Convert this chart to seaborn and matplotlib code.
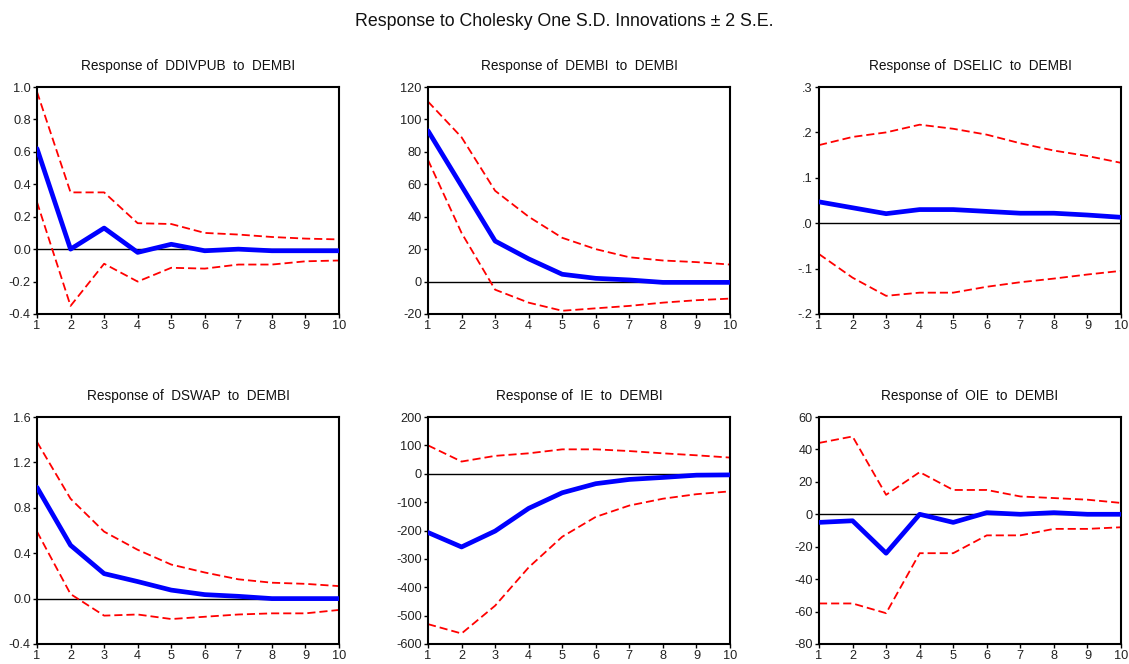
import numpy as np
import pandas as pd
import matplotlib
matplotlib.use("Agg")
import matplotlib.pyplot as plt
import seaborn as sns

periods = list(range(1, 11))

titles = ["Response of  DDIVPUB  to  DEMBI", "Response of  DEMBI  to  DEMBI",
          "Response of  DSELIC  to  DEMBI", "Response of  DSWAP  to  DEMBI",
          "Response of  IE  to  DEMBI", "Response of  OIE  to  DEMBI"]

ddivpub_resp = [0.62, 0.0, 0.13, -0.02, 0.03, -0.01, 0.0, -0.01, -0.01, -0.01]
ddivpub_up = [0.97, 0.35, 0.35, 0.16, 0.155, 0.10, 0.09, 0.075, 0.065, 0.06]
ddivpub_lo = [0.29, -0.35, -0.09, -0.20, -0.115, -0.12, -0.095, -0.095, -0.075, -0.07]

dembi_resp = [93, 59, 25, 14, 4.5, 2, 1, -0.5, -0.5, -0.5]
dembi_up = [111, 89, 56, 40, 27, 20, 15, 13, 12, 10.5]
dembi_lo = [75, 30, -5, -13, -18, -16.5, -15, -13, -11.5, -10.5]

dselic_resp = [0.047, 0.034, 0.021, 0.030, 0.030, 0.026, 0.022, 0.022, 0.018, 0.013]
dselic_up = [0.172, 0.19, 0.20, 0.217, 0.208, 0.195, 0.176, 0.16, 0.148, 0.133]
dselic_lo = [-0.068, -0.12, -0.16, -0.153, -0.153, -0.14, -0.13, -0.122, -0.113, -0.105]

dswap_resp = [0.98, 0.47, 0.22, 0.15, 0.075, 0.035, 0.02, 0.0, 0.0, 0.0]
dswap_up = [1.38, 0.88, 0.59, 0.43, 0.30, 0.23, 0.17, 0.14, 0.13, 0.11]
dswap_lo = [0.59, 0.04, -0.15, -0.14, -0.18, -0.16, -0.14, -0.13, -0.13, -0.10]

ie_resp = [-207, -258, -202, -122, -67, -35, -20, -13, -5, -4]
ie_up = [100, 43, 63, 72, 86, 86, 80, 72, 65, 57]
ie_lo = [-530, -563, -465, -330, -222, -152, -112, -88, -72, -62]

oie_resp = [-5, -4, -24, 0, -5, 1, 0, 1, 0, 0]
oie_up = [44, 48, 12, 26, 15, 15, 11, 10, 9, 7]
oie_lo = [-55, -55, -61, -24, -24, -13, -13, -9, -9, -8]

yticks = [
    ([-0.4, -0.2, 0.0, 0.2, 0.4, 0.6, 0.8, 1.0], ["-0.4", "-0.2", "0.0", "0.2", "0.4", "0.6", "0.8", "1.0"]),
    ([-20, 0, 20, 40, 60, 80, 100, 120], ["-20", "0", "20", "40", "60", "80", "100", "120"]),
    ([-0.2, -0.1, 0.0, 0.1, 0.2, 0.3], ["-.2", "-.1", ".0", ".1", ".2", ".3"]),
    ([-0.4, 0.0, 0.4, 0.8, 1.2, 1.6], ["-0.4", "0.0", "0.4", "0.8", "1.2", "1.6"]),
    ([-600, -500, -400, -300, -200, -100, 0, 100, 200],
     ["-600", "-500", "-400", "-300", "-200", "-100", "0", "100", "200"]),
    ([-80, -60, -40, -20, 0, 20, 40, 60], ["-80", "-60", "-40", "-20", "0", "20", "40", "60"]),
]

series = [
    (ddivpub_resp, ddivpub_up, ddivpub_lo),
    (dembi_resp, dembi_up, dembi_lo),
    (dselic_resp, dselic_up, dselic_lo),
    (dswap_resp, dswap_up, dswap_lo),
    (ie_resp, ie_up, ie_lo),
    (oie_resp, oie_up, oie_lo),
]

sns.set_theme(style="ticks")
plt.rcParams['font.family'] = ['Liberation Sans', 'DejaVu Sans']

fig = plt.figure(figsize=(11.29, 6.64), dpi=100)
W, H = 1129, 664
lefts = [37, 428, 819]
width = 302
tops = [87, 417]
height = 227

for i, (resp, up, lo) in enumerate(series):
    r, c = divmod(i, 3)
    ax = fig.add_axes([lefts[c] / W, 1 - (tops[r] + height) / H, width / W, height / H])
    df = pd.DataFrame({"period": periods, "resp": resp, "up": up, "lo": lo})
    ax.axhline(0, color="black", lw=1.0, zorder=1)
    sns.lineplot(data=df, x="period", y="up", ax=ax, color="#ff0000", lw=1.3,
                 linestyle=(0, (4.5, 2.2)), zorder=2)
    sns.lineplot(data=df, x="period", y="lo", ax=ax, color="#ff0000", lw=1.3,
                 linestyle=(0, (4.5, 2.2)), zorder=2)
    sns.lineplot(data=df, x="period", y="resp", ax=ax, color="#0000ff", lw=3.4, zorder=3)
    ticks, labels = yticks[i]
    ax.set_ylim(ticks[0], ticks[-1])
    ax.set_yticks(ticks)
    ax.set_yticklabels(labels)
    ax.set_xlim(1, 10)
    ax.set_xticks(periods)
    ax.set_xticklabels([str(p) for p in periods])
    ax.set_xlabel("")
    ax.set_ylabel("")
    ax.tick_params(axis="both", labelsize=9.2, length=3, width=1, color="black",
                   pad=1.5, labelcolor="#222222")
    for s in ax.spines.values():
        s.set_linewidth(1.5)
        s.set_color("black")
        s.set_visible(True)
    ax.set_title(titles[i], fontsize=9.8, pad=12, color="#111111")

fig.suptitle("Response to Cholesky One S.D. Innovations \u00b1 2 S.E.", fontsize=12.8,
             y=1 - 22 / H, va="center", color="#111111")

fig.savefig("out.png", dpi=100)
